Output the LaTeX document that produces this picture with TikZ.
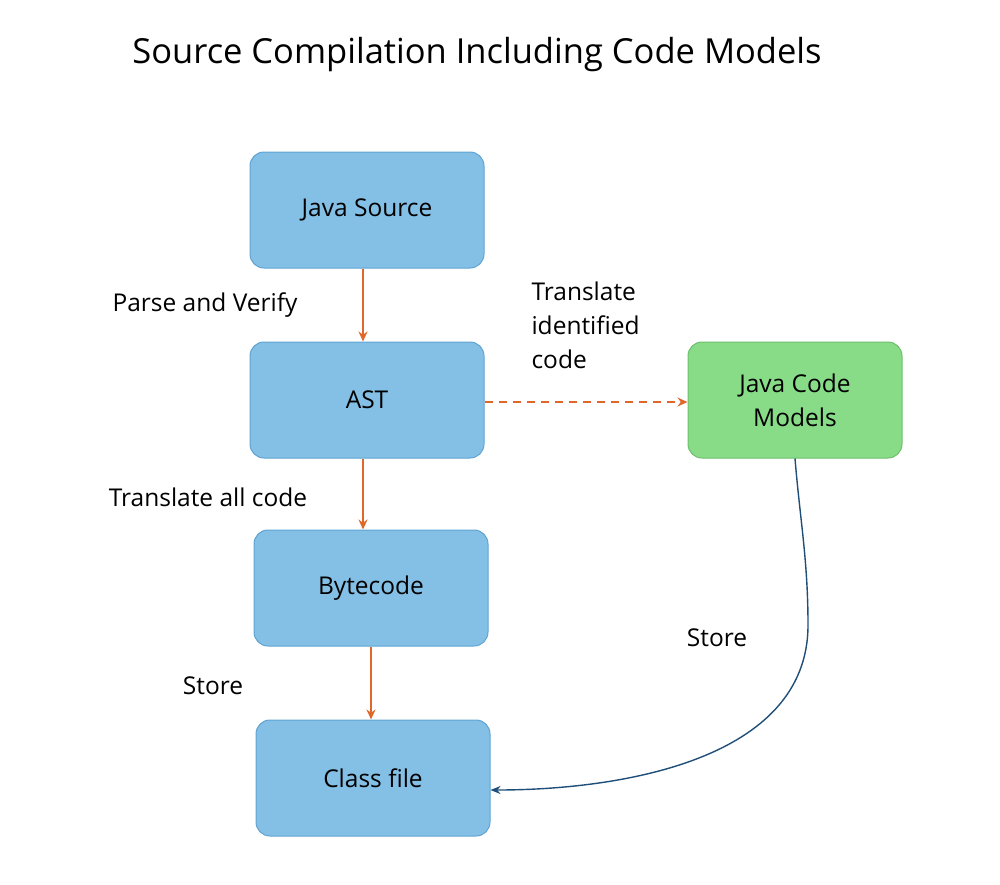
\documentclass[tikz,border=0pt]{standalone}
\usepackage{fontspec}
\setmainfont{Open Sans}
\usetikzlibrary{arrows.meta}
\definecolor{bfill}{HTML}{84BFE5}
\definecolor{bline}{HTML}{5FA3D3}
\definecolor{gfill}{HTML}{88DC88}
\definecolor{gline}{HTML}{6CBF6C}
\definecolor{orng}{HTML}{E0672A}
\definecolor{dblue}{HTML}{1F4E79}
\begin{document}
\begin{tikzpicture}[x=1pt,y=-1pt,
  box/.style={draw=bline,fill=bfill,rounded corners=14pt,line width=1pt,minimum width=234pt,minimum height=116pt,font=\fontsize{24.5}{34}\selectfont},
  gbox/.style={box,draw=gline,fill=gfill,minimum width=214pt},
  lab/.style={font=\fontsize{24.5}{34}\selectfont},
  oarr/.style={orng,line width=1.8pt,-{Stealth[length=10pt,width=9pt]}}]
\useasboundingbox (0,0) rectangle (1000,884);
\node[font=\fontsize{34.5}{40}\selectfont] (title) at (477,55) {Source Compilation Including Code Models};
\node[box] (src) at (367,210) {Java Source};
\node[box] (ast) at (367,400) {AST};
\node[box] (byte) at (371,588) {Bytecode};
\node[box] (cls) at (373,778) {Class file};
\node[gbox,align=center] (jcm) at (795,400) {Java Code\\Models};
\draw[oarr] (src.south -| 363,0) -- (ast.north -| 363,0);
\draw[oarr] (ast.south -| 363,0) -- (byte.north -| 363,0);
\draw[oarr] (byte.south -| 371,0) -- (cls.north -| 371,0);
\draw[oarr,dashed,dash pattern=on 8pt off 6pt] (ast.east |- 0,402) -- (jcm.west |- 0,402);
\coordinate (c1) at (808,625);
\draw[dblue,line width=1.4pt,-{Stealth[length=10pt,width=8pt]}] (jcm.south) .. controls (800,520) and (808,560) .. (c1) .. controls (808,760) and (620,790) .. (cls.east |- 0,790);
\node[lab] (l1) at (205,305) {Parse and Verify};
\node[lab,align=left,anchor=north west] (l2) at (528,278) {Translate\\identified\\code};
\node[lab] (l3) at (208,497) {Translate all code};
\node[lab] (l4) at (213,686) {Store};
\node[lab] (l5) at (717,638) {Store};
\end{tikzpicture}
\end{document}
